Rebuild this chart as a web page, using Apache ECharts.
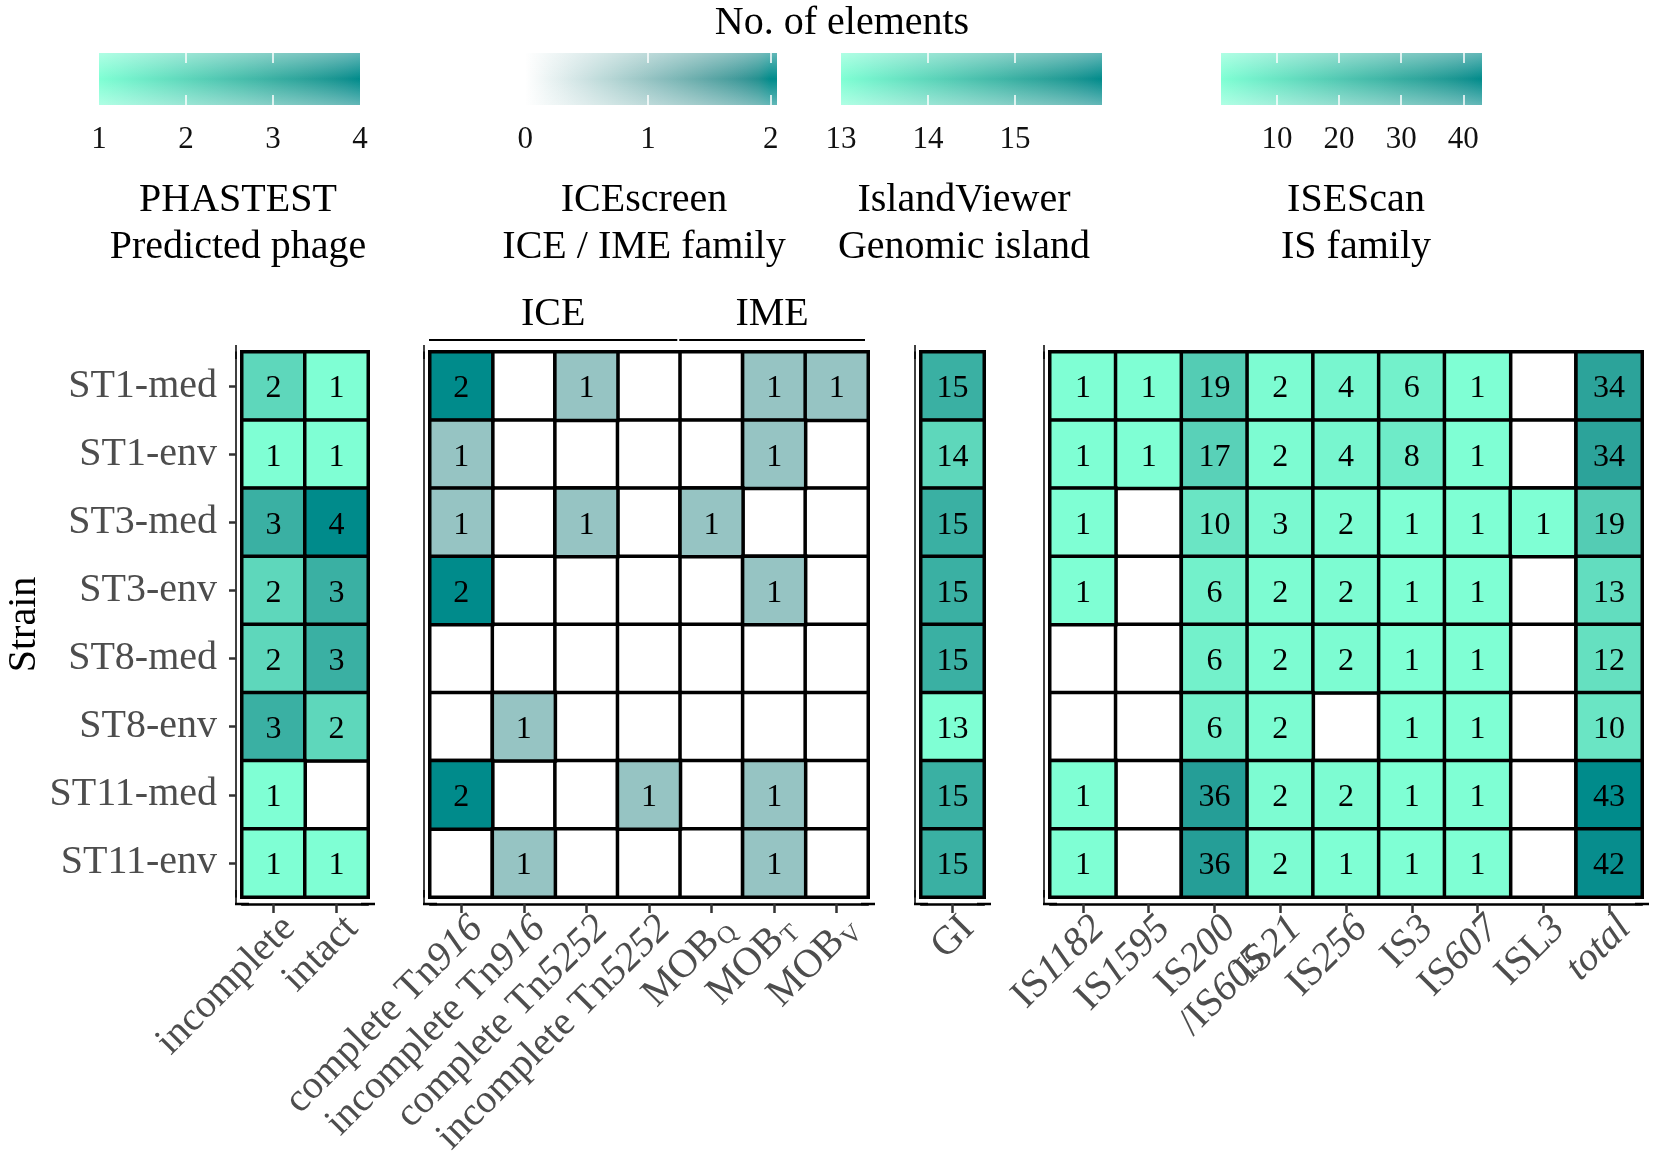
<!DOCTYPE html>
<html><head><meta charset="utf-8">
<script src="https://cdn.jsdelivr.net/npm/echarts@6/dist/echarts.min.js"></script>
<style>html,body{margin:0;padding:0;background:#fff}#c{width:1654px;height:1174px}</style>
</head><body><div id="c"></div>
<script>
// ---------------- data ----------------
const strains = ['ST1-med','ST1-env','ST3-med','ST3-env','ST8-med','ST8-env','ST11-med','ST11-env'];

const phageCats = ['incomplete','intact'];
const phageVals = [[2,1],[1,1],[3,4],[2,3],[2,3],[3,2],[1,null],[1,1]];

const iceCats = ['complete Tn916','incomplete Tn916','complete Tn5252','incomplete Tn5252','MOBQ','MOBT','MOBV'];
const iceVals = [
  [2,null,1,null,null,1,1],
  [1,null,null,null,null,1,null],
  [1,null,1,null,1,null,null],
  [2,null,null,null,null,1,null],
  [null,null,null,null,null,null,null],
  [null,1,null,null,null,null,null],
  [2,null,null,1,null,1,null],
  [null,1,null,null,null,1,null]
];
const iceGroups = ['ICE','IME'];
const iceGroupSpans = [[0,3],[4,6]];

const giCats = ['GI'];
const giVals = [15,14,15,15,15,13,15,15];

const isCats = ['IS1182','IS1595','IS200/IS605','IS21','IS256','IS3','IS607','ISL3','total'];
const isVals = [
  [1,1,19,2,4,6,1,null,34],
  [1,1,17,2,4,8,1,null,34],
  [1,null,10,3,2,1,1,1,19],
  [1,null,6,2,2,1,1,null,13],
  [null,null,6,2,2,1,1,null,12],
  [null,null,6,2,null,1,1,null,10],
  [1,null,36,2,2,1,1,null,43],
  [1,null,36,2,1,1,1,null,42]
];

const phageRange = [1,4], iceRange = [0,2], giRange = [13,16], isRange = [1,43];
const phageTicks = [1,2,3,4], iceTicks = [0,1,2], giTicks = [13,14,15], isTicks = [10,20,30,40];
const legendTitles = ['PHASTEST\nPredicted phage','ICEscreen\nICE / IME family','IslandViewer\nGenomic island','ISEScan\nIS family'];
const mainTitle = 'No. of elements';
const yTitle = 'Strain';

// ---------------- colour helpers (Lab interpolation like ggplot) ----------------
function hex2rgb(h){h=h.replace('#','');return [0,2,4].map(i=>parseInt(h.substr(i,2),16)/255);}
function lin(c){return c<=0.04045?c/12.92:Math.pow((c+0.055)/1.055,2.4);}
function delin(c){return c<=0.0031308?12.92*c:1.055*Math.pow(c,1/2.4)-0.055;}
function rgb2lab(rgb){const [r,g,b]=rgb.map(lin);
  const X=(0.4124564*r+0.3575761*g+0.1804375*b)/0.95047;
  const Y=(0.2126729*r+0.7151522*g+0.0721750*b);
  const Z=(0.0193339*r+0.1191920*g+0.9503041*b)/1.08883;
  const f=t=>t>216/24389?Math.cbrt(t):(24389/27*t+16)/116;
  const fx=f(X),fy=f(Y),fz=f(Z);
  return [116*fy-16,500*(fx-fy),200*(fy-fz)];}
function lab2rgb(lab){const [L,a,b]=lab;const fy=(L+16)/116,fx=fy+a/500,fz=fy-b/200;
  const finv=t=>t*t*t>216/24389?t*t*t:(116*t-16)/(24389/27);
  const X=finv(fx)*0.95047,Y=finv(fy),Z=finv(fz)*1.08883;
  const r=3.2404542*X-1.5371385*Y-0.4985314*Z;
  const g=-0.9692660*X+1.8760108*Y+0.0415560*Z;
  const bb=0.0556434*X-0.2040259*Y+1.0572252*Z;
  return [r,g,bb].map(c=>Math.round(Math.min(1,Math.max(0,delin(c)))*255));}
function labRamp(c1,c2,n){const A=rgb2lab(hex2rgb(c1)),B=rgb2lab(hex2rgb(c2));const out=[];
  for(let i=0;i<n;i++){const t=i/(n-1);out.push('rgb('+lab2rgb(A.map((v,k)=>v+(B[k]-v)*t)).join(',')+')');}return out;}

const aquaRamp = labRamp('#7FFFD4','#008B8B',21);
const iceRamp = labRamp('#FFFFFF','#008B8B',21);

// ---------------- options ----------------
const FONT = '"Liberation Serif", "Times New Roman", serif';
const GREY = '#4D4D4D';

const panels = [
  {cats: phageCats, vals: phageVals, range: phageRange, ramp: aquaRamp, grid:{left:242, width:126}},
  {cats: iceCats, vals: iceVals, range: iceRange, ramp: iceRamp, grid:{left:430, width:438}},
  {cats: giCats, vals: giVals.map(v=>[v]), range: giRange, ramp: aquaRamp, grid:{left:921, width:63}},
  {cats: isCats, vals: isVals, range: isRange, ramp: aquaRamp, grid:{left:1050, width:592}}
];
const legends = [
  {range: phageRange, ticks: phageTicks, ramp: aquaRamp, ext:[1,4], grid:{left:99, width:261}, title:{x:238}},
  {range: iceRange, ticks: iceTicks, ramp: iceRamp, ext:[-0.05,2.05], grid:{left:519, width:258}, title:{x:644}},
  {range: giRange, ticks: giTicks, ramp: aquaRamp, ext:[13,16], grid:{left:841, width:261}, title:{x:964}},
  {range: isRange, ticks: isTicks, ramp: aquaRamp, ext:[1,43], grid:{left:1221, width:261}, title:{x:1356}}
];

function fmtCat(v){
  if (/^MOB/.test(v)) return 'MOB{s|'+v.slice(3)+'}';
  if (v==='total') return '{i|total}';
  if (v==='IS200/IS605') return 'IS{i|200}\n/IS{i|605}';
  return v.replace(/(\d+)$/, '{i|$1}');
}
const richX = {
  i:{fontFamily:FONT, fontStyle:'italic', fontSize:40, color:GREY, lineHeight:44},
  s:{fontFamily:FONT, fontSize:25, color:GREY, lineHeight:44, verticalAlign:'bottom', padding:[0,0,0,1]}
};

const grids=[], xAxes=[], yAxes=[], series=[], visualMaps=[];
const nP = panels.length;

panels.forEach((p,k)=>{
  grids.push({left:p.grid.left, width:p.grid.width, top:352, height:545, containLabel:false});
  xAxes.push({type:'category', gridIndex:k, data:p.cats, position:'bottom', offset:7,
    axisLine:{show:true, lineStyle:{color:'#000', width:2.5}, symbol:['rect','rect'], symbolSize:[2.5,14]},
    axisTick:{show:true, alignWithLabel:true, length:9, lineStyle:{color:'#333', width:2.5}},
    axisLabel:{interval:0, rotate:45, align:'right', verticalAlign:'top', margin:3, fontFamily:FONT, fontSize:40, color:GREY, lineHeight:44,
      formatter:fmtCat, rich:richX},
    splitLine:{show:false}});
  yAxes.push({type:'category', gridIndex:k, data:strains, inverse:true, offset:6,
    axisLine:{show:true, lineStyle:{color:'#000', width:1.5}, symbol:['rect','rect'], symbolSize:[1.5,14]},
    axisTick:{show:k===0, alignWithLabel:true, length:7, lineStyle:{color:'#333', width:2.5}},
    axisLabel:{show:k===0, interval:0, margin:19, fontFamily:FONT, fontSize:40, color:GREY, padding:[10,0,0,0]},
    name: k===0 ? yTitle : '', nameLocation:'middle', nameRotate:90, nameGap:192,
    nameTextStyle:{fontFamily:FONT, fontSize:40, color:'#000'},
    splitLine:{show:false}});
  // frame series: every cell, white with black border (empty cells stay white)
  const frame=[];
  p.vals.forEach((row,r)=>row.forEach((v,c)=>frame.push([c,r,0])));
  series.push({type:'heatmap', xAxisIndex:k, yAxisIndex:k, data:frame, label:{show:false},
    itemStyle:{color:'#ffffff', borderColor:'#000', borderWidth:3.5}, emphasis:{disabled:true}, silent:true, animation:false});
});
visualMaps.push({type:'continuous', show:false, seriesIndex:[0,1,2,3], dimension:2, min:0, max:1,
  inRange:{color:['#ffffff','#ffffff']}, outOfRange:{color:'#ffffff'}});

panels.forEach((p,k)=>{
  const data=[];
  p.vals.forEach((row,r)=>row.forEach((v,c)=>{ if(v!=null) data.push([c,r,v]); }));
  series.push({type:'heatmap', xAxisIndex:k, yAxisIndex:k, data,
    label:{show:true, formatter:q=>q.value[2]?String(q.value[2]):'', fontFamily:FONT, fontSize:32, color:'#000', offset:[0,3]},
    itemStyle:{borderColor:'#000', borderWidth:3.5},
    emphasis:{disabled:true}, animation:false});
  visualMaps.push({type:'continuous', show:false, seriesIndex:nP+k, dimension:2,
    min:p.range[0], max:p.range[1], inRange:{color:p.ramp}, outOfRange:{color:'#ffffff'}});
});

// ICE / IME header via custom series on the ICE grid
series.push({type:'custom', xAxisIndex:1, yAxisIndex:1, clip:false, silent:true, animation:false,
  data: iceGroupSpans.map(s=>[s[0],0]), encode:{x:0,y:1},
  renderItem:(params, api)=>{
    const i=params.dataIndex, sp=iceGroupSpans[i];
    const a=api.coord([sp[0],0]), b=api.coord([sp[1],0]);
    const bw=api.size([1,0])[0], bh=api.size([0,1])[1];
    const top=a[1]-bh/2;
    const x1=a[0]-bw/2-1, x2=b[0]+bw/2-3;
    return {type:'group', children:[
      {type:'line', shape:{x1:x1, y1:top-12, x2:x2, y2:top-12}, style:{stroke:'#000', lineWidth:2}},
      {type:'text', style:{text:iceGroups[i], x:(x1+x2)/2, y:top-38, align:'center', verticalAlign:'middle',
        font:'40px '+FONT, fill:'#000'}}
    ]};
  }});

// colour-bar legends: grids with value axes, gradient background from the same ramps
legends.forEach((L,j)=>{
  const gi = nP + j;
  const [e0,e1] = L.ext, [r0,r1] = L.range;
  const stops = L.ramp.map((c,i)=>{
    const v = r0 + (r1-r0)*i/(L.ramp.length-1);
    return {offset: Math.min(1,Math.max(0,(v-e0)/(e1-e0))), color:c};
  });
  grids.push({left:L.grid.left, width:L.grid.width, top:53, height:52, show:true, borderWidth:0,
    backgroundColor: new echarts.graphic.LinearGradient(0,0,1,0,stops)});
  const inner = L.ticks.filter(t=>t>e0+1e-6 && t<e1-1e-6);
  const xb = xAxes.length;
  xAxes.push({type:'value', gridIndex:gi, min:e0, max:e1, position:'bottom',
    axisLine:{show:false}, splitLine:{show:false},
    axisTick:{show:true, inside:true, length:10, customValues:inner, lineStyle:{color:'#fff', width:1.5}},
    axisLabel:{show:true, customValues:L.ticks, margin:19, fontFamily:FONT, fontSize:31, color:'#111', showMinLabel:true, showMaxLabel:true}});
  xAxes.push({type:'value', gridIndex:gi, min:e0, max:e1, position:'top',
    axisLine:{show:false}, splitLine:{show:false},
    axisTick:{show:true, inside:true, length:10, customValues:inner, lineStyle:{color:'#fff', width:1.5}},
    axisLabel:{show:false}});
  const yb = yAxes.length;
  yAxes.push({type:'value', gridIndex:gi, show:false, min:0, max:1});
  // soft highlight band of the raster colour bar (top and bottom lighter)
  series.push({type:'custom', xAxisIndex:xb, yAxisIndex:yb, silent:true, animation:false, z:1,
    data:[[e0,0]],
    renderItem:(params, api)=>{
      const p0=api.coord([e0,1]), p1=api.coord([e1,0]);
      return {type:'rect', shape:{x:p0[0], y:p0[1], width:p1[0]-p0[0], height:p1[1]-p0[1]},
        style:{fill:new echarts.graphic.LinearGradient(0,0,0,1,[
          {offset:0,color:'rgba(255,255,255,0.38)'},{offset:0.5,color:'rgba(255,255,255,0)'},{offset:1,color:'rgba(255,255,255,0.38)'}])}};
    }});
});

const graphics = [
  {type:'text', x:842, y:23, style:{text:mainTitle, align:'center', verticalAlign:'middle', font:'40px '+FONT, fill:'#000'}}
];
legends.forEach((L,j)=>graphics.push({type:'text', x:L.title.x, y:224, style:{text:legendTitles[j], align:'center', verticalAlign:'middle', lineHeight:47, font:'40px '+FONT, fill:'#000'}}));

const chart = echarts.init(document.getElementById('c'), null, {renderer:'canvas'});
chart.setOption({
  backgroundColor:'#fff',
  animation:false,
  textStyle:{fontFamily:FONT},
  grid:grids, xAxis:xAxes, yAxis:yAxes, visualMap:visualMaps, series:series, graphic:graphics
});
</script></body></html>
